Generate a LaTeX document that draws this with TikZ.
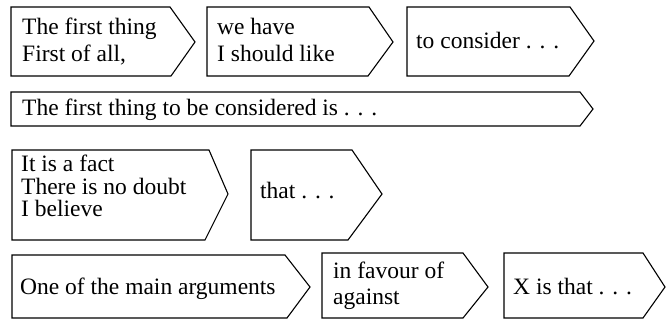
\documentclass[tikz,border=0pt]{standalone}
\usepackage{fontspec}
\setmainfont{Liberation Serif}
\begin{document}
\begin{tikzpicture}[x=1pt,y=-1pt,
  shp/.style={draw=black,line width=1.1pt,line join=miter},
  txt/.style={anchor=base west,inner sep=0pt,font=\fontsize{23.5}{26}\selectfont}]
\useasboundingbox (0,0) rectangle (667,320);
% row 1
\draw[shp] (11,7) -- (170,7) -- (195,42) -- (171,76) -- (11,76) -- cycle;
\node[txt] (a1) at (22,35) {The first thing};
\node[txt] (a2) at (22,62) {First of all,};
\draw[shp] (207,7) -- (369,7) -- (393,42) -- (368,76) -- (207,76) -- cycle;
\node[txt] (b1) at (217,35) {we have};
\node[txt] (b2) at (217,62) {I should like};
\draw[shp] (407,7) -- (570,7) -- (594,41) -- (569,76) -- (407,76) -- cycle;
\node[txt] (c1) at (416,49) {to consider . . .};
% row 2
\draw[shp] (11,92) -- (580,92) -- (593,109) -- (580,126) -- (11,126) -- cycle;
\node[txt] (d1) at (22,116) {The first thing to be considered is . . .};
% row 3
\draw[shp] (12,150) -- (209,150) -- (228,194) -- (205,240) -- (12,240) -- cycle;
\node[txt] (e1) at (21,172) {It is a fact};
\node[txt] (e2) at (21,195) {There is no doubt};
\node[txt] (e3) at (21,217) {I believe};
\draw[shp] (251,150) -- (352,150) -- (382,194) -- (348,240) -- (251,240) -- cycle;
\node[txt] (f1) at (260,199) {that . . .};
% row 4
\draw[shp] (12,255) -- (285,255) -- (310,287) -- (287,318) -- (12,318) -- cycle;
\node[txt] (g1) at (20,295) {One of the main arguments};
\draw[shp] (322,253) -- (463,253) -- (488,287) -- (463,318) -- (322,318) -- cycle;
\node[txt] (h1) at (333,279) {in favour of};
\node[txt] (h2) at (333,305) {against};
\draw[shp] (504,253) -- (643,253) -- (665,287) -- (643,318) -- (504,318) -- cycle;
\node[txt] (i1) at (513,295) {X is that . . .};
\end{tikzpicture}
\end{document}
